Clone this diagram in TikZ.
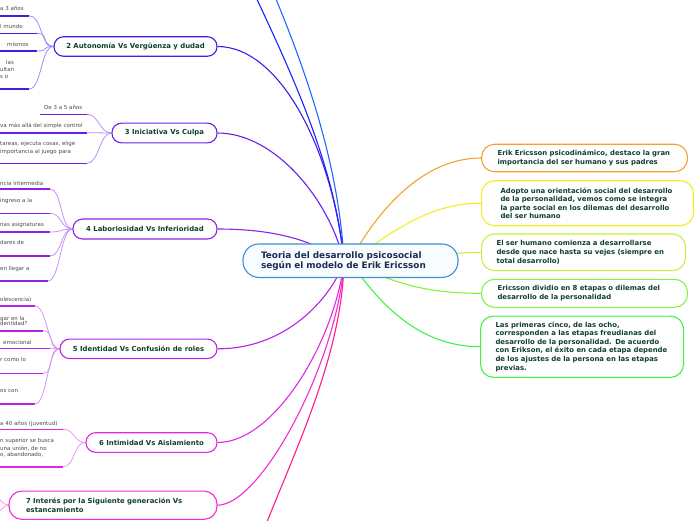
\documentclass[tikz,border=0pt]{standalone}
\usepackage{fontspec}
\setmainfont{DejaVu Sans}
\usetikzlibrary{backgrounds}
\definecolor{ctwo}{HTML}{3C1EE8}
\definecolor{cthree}{HTML}{6A1FE8}
\definecolor{cfour}{HTML}{8E22E8}
\definecolor{cfive}{HTML}{B424E8}
\definecolor{csix}{HTML}{E226E8}
\definecolor{cseven}{HTML}{F02CD2}
\definecolor{cbot}{HTML}{FF1A8C}
\definecolor{ctopa}{HTML}{1A22FF}
\definecolor{ctopb}{HTML}{2266FF}
\definecolor{corange}{HTML}{F5A030}
\definecolor{cyellow}{HTML}{F2EE22}
\definecolor{cygreen}{HTML}{C6F040}
\definecolor{clime}{HTML}{88F040}
\definecolor{cgreen}{HTML}{44F044}
\definecolor{cmain}{HTML}{3A8FD6}
\definecolor{tgreen}{HTML}{0F3F30}
\definecolor{tnavy}{HTML}{1C2B50}
\definecolor{tleaf}{HTML}{4A4A4A}
\newcommand\oneline[1]{\mbox{#1}}
\tikzset{
  snode/.style={rounded corners=9.5pt, line width=1.1pt, fill=white, inner sep=1pt,
    font=\fontsize{6.9}{8.6}\selectfont\bfseries, text=tgreen},
  rnode/.style={rounded corners=13pt, line width=1.1pt, fill=white, inner ysep=0pt, anchor=west,
    align=left, font=\fontsize{6.9}{8.6}\selectfont\bfseries, text=tgreen},
  mainn/.style={rounded corners=16pt, line width=1.1pt, draw=cmain, fill={rgb,255:red,249;green,252;blue,255},
    align=left, font=\fontsize{8.9}{10}\selectfont\bfseries, text=tnavy, inner ysep=0pt},
  conn/.style={line width=1.1pt},
  uline/.style={line width=1.6pt},
  lcurve/.style={line width=0.8pt},
  ltext/.style={anchor=base west, inner sep=0pt, font=\fontsize{5.5}{7}\selectfont, text=tleaf, align=left}
}
\begin{document}
\begin{tikzpicture}[x=1pt,y=-1pt]
\useasboundingbox (0,0) rectangle (696,520);
\clip (0,0) rectangle (696,520);
\coordinate (hub) at (344,262);
\coordinate (hubr) at (350,261);
\coordinate (topa) at (248,-20);
\coordinate (topb) at (268,-20);
\coordinate (bot) at (258,545);

% stage nodes
\node[snode, draw=ctwo, minimum width=163pt, minimum height=19.5pt] (s2) at (135.5,46.5) {2 Autonomía Vs Vergüenza y dudad};
\node[snode, draw=cthree, minimum width=105pt, minimum height=19.7pt] (s3) at (164.5,133) {3 Iniciativa Vs Culpa};
\node[snode, draw=cfour, minimum width=144pt, minimum height=20pt] (s4) at (145,229) {4 Laboriosidad Vs Inferioridad};
\node[snode, draw=cfive, minimum width=157pt, minimum height=19.5pt] (s5) at (138.5,348.8) {5 Identidad Vs Confusión de roles};
\node[snode, draw=csix, minimum width=131pt, minimum height=19.6pt] (s6) at (151.5,442.5) {6 Intimidad Vs Aislamiento};
\node[rnode, draw=cseven, anchor=center, text width=174pt, inner xsep=17pt, minimum height=28.3pt] (s7) at (113,505.2) {\oneline{7 Interés por la Siguiente generación Vs}\\\oneline{estancamiento}};

% right nodes
\node[rnode, draw=corange, text width=174pt, inner xsep=16pt, minimum height=27.5pt] (r1) at (481,158) {\oneline{Erik Ericsson psicodinámico, destaco la gran}\\\oneline{importancia del ser humano y sus padres}};
\node[rnode, draw=cyellow, text width=174pt, inner xsep=19pt, minimum height=45pt] (r2) at (481,203.2) {\oneline{Adopto una orientación social del desarrollo}\\\oneline{de la personalidad, vemos como se integra}\\\oneline{la parte social en los dilemas del desarrollo}\\\oneline{del ser humano}};
\node[rnode, draw=cygreen, text width=174pt, inner xsep=15pt, minimum height=36.7pt] (r3) at (481,252.3) {\oneline{El ser humano comienza a desarrollarse}\\\oneline{desde que nace hasta su vejes (siempre en}\\\oneline{total desarrollo)}};
\node[rnode, draw=clime, text width=174pt, inner xsep=16pt, minimum height=28pt] (r4) at (481,293.3) {\oneline{Ericsson dividio en 8 etapas o dilemas del}\\\oneline{desarrollo de la personalidad}};
\node[rnode, draw=cgreen, text width=173pt, inner xsep=15pt, minimum height=61.3pt] (r5) at (480,346.7) {\oneline{Las primeras cinco, de las ocho,}\\\oneline{corresponden a las etapas freudianas del}\\\oneline{desarrollo de la personalidad. De acuerdo}\\\oneline{con Erikson, el éxito en cada etapa depende}\\\oneline{de los ajustes de la persona en las etapas}\\\oneline{previas.}};

% main node
\node[mainn, text width=179pt, inner xsep=18pt, minimum height=33.5pt] (main) at (350.5,260.7) {Teoria del desarrollo psicosocial\\según el modelo de Erik Ericsson};

% leaf coordinates
\coordinate (a1) at (29,15.7);  \coordinate (a2) at (37,33.3);
\coordinate (a3) at (37,51);    \coordinate (a4) at (29,89);
\coordinate (b1) at (87,114.3); \coordinate (b2) at (87,132.7); \coordinate (b3) at (87,163.3);
\coordinate (c1) at (50,189);   \coordinate (c2) at (50,213.3); \coordinate (c3) at (50,232);
\coordinate (c4) at (50,256);   \coordinate (c5) at (48,281);
\coordinate (d1) at (35,306);   \coordinate (d2) at (43,330.7); \coordinate (d3) at (50,348.3);
\coordinate (d4) at (43,373.3); \coordinate (d5) at (35,404);
\coordinate (e1) at (63,429.3); \coordinate (e2) at (63,466.7);
\coordinate (f1) at (-6,497);   \coordinate (f2) at (-6,514);

% leaf texts
\node[ltext] (ta1) at (0,10.8) {a 3 años};
\node[ltext] (ta2) at (0,28.5) {l mundo};
\node[ltext] (ta3) at (7,46.1) {mismos};
\node[ltext] (ta4) at (6,64.1) {las};
\node[ltext] (ta5) at (0,71.8) {ultan};
\node[ltext] (ta6) at (0,78.8) {s o};
\node[ltext] (tb1) at (44,109.5) {De 3 a 5 años};
\node[ltext] (tb2) at (0,127.8) {va más allá del simple control};
\node[ltext] (tb3) at (0,145.8) {tareas, ejecuta cosas, elige};
\node[ltext] (tb4) at (0,153) {importancia al juego para};
\node[ltext] (tc1) at (0,185.1) {ncia intermedia};
\node[ltext] (tc2) at (0,202.8) {ingreso a la};
\node[ltext] (tc3) at (0,226.8) {nas asignaturas};
\node[ltext] (tc4) at (0,244.5) {dares de};
\node[ltext] (tc5) at (0,270.1) {en llegar a};
\node[ltext] (td1) at (0,301.8) {olescencia)};
\node[ltext] (td2) at (0,320.1) {gar en la};
\node[ltext] (td3) at (0,325.8) {dentidad?};
\node[ltext] (td4) at (3,344.1) {emocional};
\node[ltext] (td5) at (0,361.8) {r como lo};
\node[ltext] (td6) at (0,392.8) {os con};
\node[ltext] (te1) at (0,425.1) {a 40 años (juventud)};
\node[ltext] (te2) at (0,442.8) {n superior se busca};
\node[ltext] (te3) at (0,450.1) {una unión, de no};
\node[ltext] (te4) at (0,456.1) {o, abandonado,};

\begin{scope}[on background layer]
% hub connectors, left
\draw[conn, ctopa] (hub) .. controls (335,160) and (285,60) .. (topa);
\draw[conn, ctopb] (hub) .. controls (339,160) and (302,60) .. (topb);
\draw[conn, ctwo] (s2.east) .. controls (280,46.5) and (333,150) .. (hub);
\draw[conn, cthree] (s3.east) .. controls (275,133) and (330,200) .. (hub);
\draw[conn, cfour] (s4.east) .. controls (285,229) and (320,245) .. (hub);
\draw[conn, cfive] (s5.east) .. controls (285,349) and (330,300) .. (hub);
\draw[conn, csix] (s6.east) .. controls (275,442.5) and (335,340) .. (hub);
\draw[conn, cseven] (s7.east) .. controls (262,505) and (338,360) .. (hub);
\draw[conn, cbot] (hub) .. controls (342,360) and (290,460) .. (bot);
% right
\draw[conn, corange] (hubr) .. controls (375,215) and (420,158) .. (r1.west);
\draw[conn, cyellow] (hubr) .. controls (395,230) and (430,203.2) .. (r2.west);
\draw[conn, cygreen] (hubr) .. controls (420,262) and (440,252.3) .. (r3.west);
\draw[conn, clime] (hubr) .. controls (395,285) and (430,293.3) .. (r4.west);
\draw[conn, cgreen] (hubr) .. controls (380,305) and (420,346.7) .. (r5.west);

% leaves of stage 2
\foreach \p in {a1,a2,a3,a4} {
  \draw[lcurve, ctwo!50] (s2.west) .. controls +(-13,0) and +(13,0) .. (\p);
  \draw[uline, ctwo] (\p) -- ++(-60,0);
}
% stage 3
\foreach \p in {b2,b3} {
  \draw[lcurve, cthree!50] (s3.west) .. controls +(-12,0) and +(12,0) .. (\p);
  \draw[uline, cthree] (\p) -- ++(-120,0);
}
\draw[lcurve, cthree!50] (s3.west) .. controls +(-12,0) and +(12,0) .. (b1);
\draw[uline, cthree] (b1) -- (40,114.3);
% stage 4
\foreach \p in {c1,c2,c3,c4,c5} {
  \draw[lcurve, cfour!50] (s4.west) .. controls +(-12,0) and +(12,0) .. (\p);
  \draw[uline, cfour] (\p) -- ++(-80,0);
}
% stage 5
\foreach \p in {d1,d2,d3,d4,d5} {
  \draw[lcurve, cfive!50] (s5.west) .. controls +(-12,0) and +(12,0) .. (\p);
  \draw[uline, cfive] (\p) -- ++(-80,0);
}
% stage 6
\foreach \p in {e1,e2} {
  \draw[lcurve, csix!50] (s6.west) .. controls +(-12,0) and +(12,0) .. (\p);
  \draw[uline, csix] (\p) -- ++(-90,0);
}
% stage 7
\foreach \p in {f1,f2} {
  \draw[lcurve, cseven!50] (s7.west) .. controls +(-6,0) and +(6,0) .. (\p);
}
\end{scope}
\end{tikzpicture}
\end{document}
